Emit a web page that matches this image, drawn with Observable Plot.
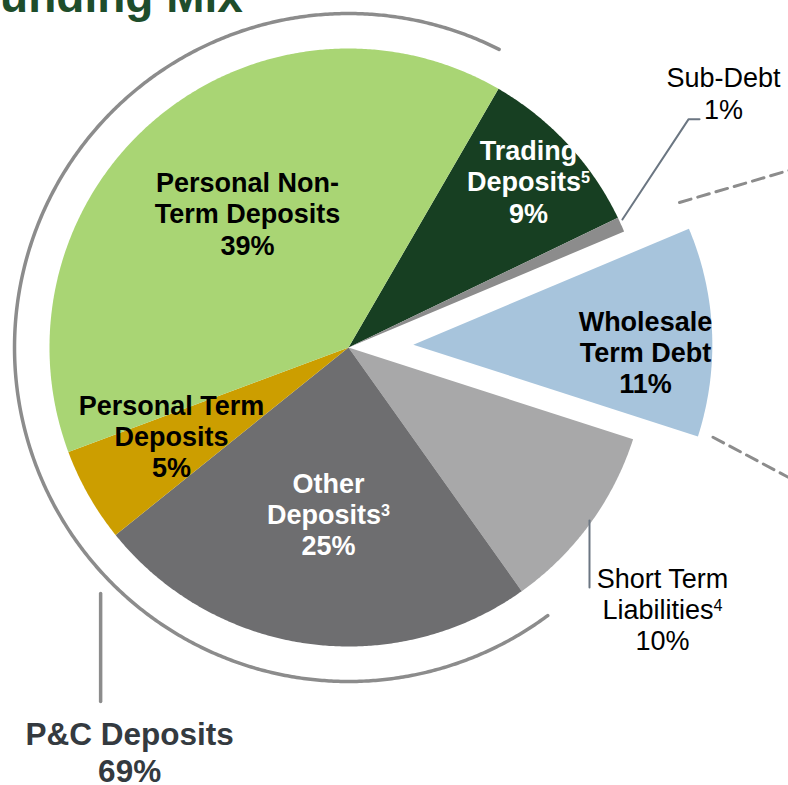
<!DOCTYPE html>
<html><head><meta charset="utf-8">
<script src="https://cdn.jsdelivr.net/npm/d3@7"></script>
<script src="https://cdn.jsdelivr.net/npm/@observablehq/plot@0.6"></script>
<style>
html,body{margin:0;padding:0;background:#fff;overflow:hidden}
#wrap{position:relative;width:788px;height:785px;overflow:hidden}
#title{position:absolute;left:-28px;top:-27px;font:bold 46px "Liberation Sans",Arial,sans-serif;color:#1e4d2b;line-height:46px;white-space:nowrap}
</style></head><body>
<div id="wrap"><div id="chart"></div><div id="title">Funding Mix</div></div>
<script>
// ---- data (clockwise from the top-right) ----
const categories = ["Trading Deposits", "Sub-Debt", "Wholesale Term Debt", "Short Term Liabilities", "Other Deposits", "Personal Term Deposits", "Personal Non-Term Deposits"];
const shares = [9.5, 0.8, 11.3, 10.2, 24.05, 5.1, 39.05];
const shareLabels = ["9%", "1%", "11%", "10%", "25%", "5%", "39%"]; // as printed
const labelNames = ["Trading\nDeposits⁵", "Sub-Debt", "Wholesale\nTerm Debt", "Short Term\nLiabilities⁴", "Other\nDeposits³", "Personal Term\nDeposits", "Personal Non-\nTerm Deposits"];
const groupName = "P&C Deposits";
const groupMembers = ["Other Deposits", "Personal Term Deposits", "Personal Non-Term Deposits"];
const groupLabel = "69%";
const exploded = "Wholesale Term Debt";

// ---- styles / layout ----
const sliceColors = ["#173f22", "#8c8c8c", "#a7c4dc", "#a8a8a9", "#6e6e70", "#cc9e00", "#a9d574"];
const labelFill = ["#fff", "#000", "#000", "#000", "#fff", "#000", "#000"];
const labelBold = [true, false, true, false, true, true, true];
const labelPos = [[0.602, 0.555], [1.254, 0.851], [0.993, -0.014], [1.050, -0.874], [-0.067, -0.557], [-0.592, -0.295], [-0.338, 0.448]];
const groupPos = [-0.732, -1.352];
const startDeg = 30.1, explode = 0.217, ringR = 1.117;
const R = 299, W = 788, H = 785, CX = 348, CY = 347;

const rad = d => d * Math.PI / 180;
function arc(cx, cy, r, a0, a1) {
  const n = Math.max(2, Math.ceil(Math.abs(a1 - a0) / 0.4));
  return d3.range(n + 1).map(k => {
    const a = rad(a0 + (a1 - a0) * k / n);
    return {x: cx + r * Math.sin(a), y: cy + r * Math.cos(a)};
  });
}

let acc = startDeg;
const slices = categories.map((c, i) => {
  const a0 = acc, a1 = acc + shares[i] * 3.6; acc = a1;
  const mid = rad((a0 + a1) / 2);
  const off = c === exploded ? explode : 0;
  const cx = off * Math.sin(mid), cy = off * Math.cos(mid);
  return {name: c, a0, a1, color: sliceColors[i], pts: [{x: cx, y: cy}, ...arc(cx, cy, 1, a0, a1), {x: cx, y: cy}]};
});

// ring around the P&C group (slightly longer than the group)
const grp = slices.filter(s => groupMembers.includes(s.name));
const g0 = d3.min(grp, s => s.a0) - 1.2, g1 = d3.max(grp, s => s.a1) - 3.3;
const ring = arc(0, 0, ringR, g0, g1);

const labels = categories.map((c, i) => ({
  x: labelPos[i][0], y: labelPos[i][1],
  text: labelNames[i] + "\n" + shareLabels[i], fill: labelFill[i], bold: labelBold[i]
}));

// annotation lines (pie units)
const subLeader = [{x: 0.916, y: 0.428}, {x: 1.137, y: 0.763}, {x: 1.174, y: 0.763}];
const shortLeader = [{x: 0.806, y: -0.579}, {x: 0.806, y: -0.803}];
const groupLeader = [{x: -0.829, y: -0.823}, {x: -0.829, y: -1.184}];
const dashUp = [{x: 1.107, y: 0.485}, {x: 1.52, y: 0.606}];
const dashDown = [{x: 1.219, y: -0.300}, {x: 1.52, y: -0.460}];

const font = "'Liberation Sans', Arial, sans-serif";
const plot = Plot.plot({
  width: W, height: H, margin: 0,
  x: {domain: [-CX / R, (W - CX) / R], range: [0, W], axis: null},
  y: {domain: [-(H - CY) / R, CY / R], range: [H, 0], axis: null},
  style: {background: "transparent", fontFamily: font},
  marks: [
    ...slices.map(s => Plot.line(s.pts, {x: "x", y: "y", fill: s.color, stroke: "none"})),
    Plot.line(ring, {x: "x", y: "y", stroke: "#8c8c8c", strokeWidth: 3.5}),
    Plot.line(dashUp, {x: "x", y: "y", stroke: "#8c8c8c", strokeWidth: 3, strokeDasharray: "12,7"}),
    Plot.line(dashDown, {x: "x", y: "y", stroke: "#8c8c8c", strokeWidth: 3, strokeDasharray: "12,7"}),
    Plot.line(subLeader, {x: "x", y: "y", stroke: "#6b7682", strokeWidth: 2}),
    Plot.line(shortLeader, {x: "x", y: "y", stroke: "#6b7682", strokeWidth: 2}),
    Plot.line(groupLeader, {x: "x", y: "y", stroke: "#8c8c8c", strokeWidth: 3.5}),
    Plot.text(labels.filter(d => d.bold), {x: "x", y: "y", text: "text", fill: "fill", fontSize: 27, fontWeight: "bold", lineHeight: 1.15, lineAnchor: "middle", textAnchor: "middle"}),
    Plot.text(labels.filter(d => !d.bold), {x: "x", y: "y", text: "text", fill: "fill", fontSize: 27, lineHeight: 1.16, lineAnchor: "middle", textAnchor: "middle"}),
    Plot.text([{x: groupPos[0], y: groupPos[1], text: groupName + "\n" + groupLabel}], {x: "x", y: "y", text: "text", fill: "#343a40", fontSize: 31.5, fontWeight: "bold", lineHeight: 1.17, lineAnchor: "middle", textAnchor: "middle"})
  ]
});
document.getElementById("chart").appendChild(plot);

// render superscript footnote marks
const supMap = {"³": "3", "⁴": "4", "⁵": "5"};
plot.querySelectorAll("text").forEach(t => {
  const spans = t.querySelectorAll("tspan");
  (spans.length ? Array.from(spans) : [t]).forEach(el => {
    const s = el.textContent, m = s.match(/[³⁴⁵]/);
    if (!m) return;
    const fs = parseFloat(getComputedStyle(el).fontSize);
    el.textContent = s.slice(0, m.index);
    const sup = document.createElementNS("http://www.w3.org/2000/svg", "tspan");
    sup.textContent = supMap[m[0]];
    sup.setAttribute("font-size", (fs * 0.6).toFixed(1));
    sup.setAttribute("baseline-shift", (fs * 0.3).toFixed(1));
    el.appendChild(sup);
  });
});
</script>
</body></html>
